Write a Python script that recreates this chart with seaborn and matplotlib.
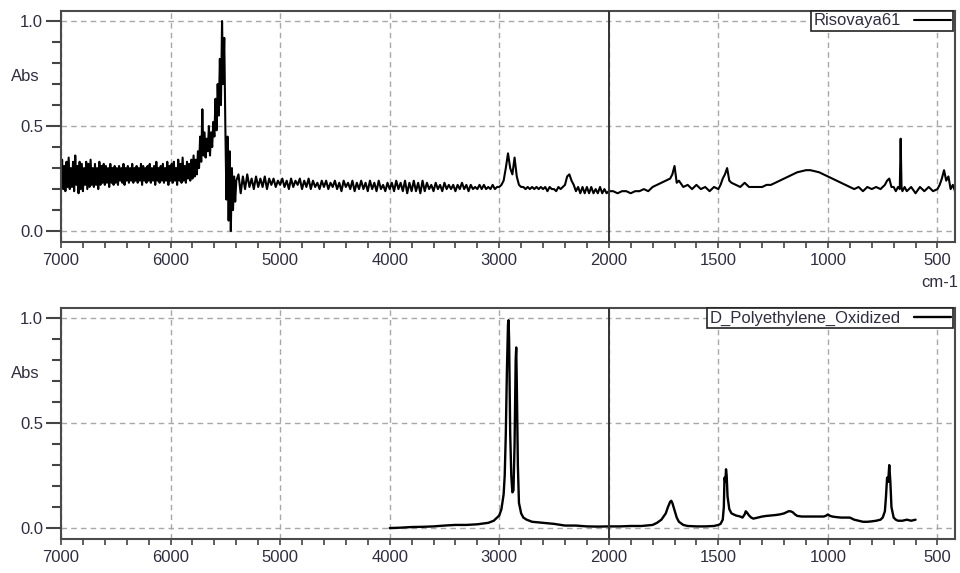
"""
Dua spektrum FTIR (Risovaya61 vs referensi polietilena teroksidasi)
dengan sumbu bilangan gelombang terpotong di 2000 cm-1.
"""
import matplotlib
matplotlib.use("Agg")
import matplotlib.pyplot as plt
import numpy as np
import seaborn as sns

# --- data spektrum atas: Risovaya61 ---
# 7000 -> 5400 cm-1, langkah 10 (daerah bising + puncak besar)
top_wn_a = np.arange(7000, 5399, -10)
top_abs_a = [
    0.22, 0.34, 0.20, 0.31, 0.19, 0.33, 0.21, 0.35, 0.20, 0.30,
    0.21, 0.33, 0.19, 0.36, 0.22, 0.31, 0.18, 0.33, 0.20, 0.32,
    0.19, 0.30, 0.22, 0.33, 0.20, 0.32, 0.21, 0.34, 0.22, 0.30,
    0.21, 0.32, 0.22, 0.30, 0.20, 0.33, 0.22, 0.31, 0.23, 0.32,
    0.22, 0.31, 0.23, 0.30, 0.21, 0.32, 0.23, 0.30, 0.22, 0.31,
    0.23, 0.30, 0.22, 0.31, 0.24, 0.30, 0.23, 0.32, 0.22, 0.30,
    0.24, 0.31, 0.23, 0.30, 0.24, 0.32, 0.23, 0.30, 0.24, 0.31,
    0.23, 0.30, 0.24, 0.32, 0.22, 0.31, 0.24, 0.30, 0.23, 0.31,
    0.24, 0.32, 0.23, 0.30, 0.24, 0.31, 0.22, 0.33, 0.24, 0.30,
    0.23, 0.31, 0.24, 0.32, 0.23, 0.30, 0.24, 0.33, 0.22, 0.31,
    0.24, 0.32, 0.23, 0.33, 0.24, 0.30, 0.22, 0.34, 0.24, 0.32,
    0.23, 0.35, 0.24, 0.31, 0.23, 0.33, 0.25, 0.32, 0.24, 0.34,
    0.25, 0.36, 0.26, 0.34, 0.27, 0.38, 0.30, 0.45, 0.33, 0.58,
    0.36, 0.47, 0.35, 0.44, 0.38, 0.50, 0.36, 0.47, 0.40, 0.52,
    0.45, 0.63, 0.48, 0.70, 0.55, 0.82, 0.60, 1.00, 0.70, 0.92,
    0.50, 0.15, 0.45, 0.05, 0.38, 0.00, 0.30, 0.10, 0.26, 0.14,
    0.24,
]
# 5380 -> 3020 cm-1, langkah 20
top_wn_b = np.arange(5380, 3019, -20)
top_abs_b = [
    0.27, 0.18, 0.26, 0.20, 0.27, 0.21, 0.25, 0.20, 0.26, 0.21,
    0.25, 0.21, 0.26, 0.20, 0.25, 0.22, 0.25, 0.21, 0.24, 0.22,
    0.25, 0.21, 0.24, 0.20, 0.25, 0.21, 0.24, 0.22, 0.25, 0.20,
    0.24, 0.21, 0.25, 0.20, 0.24, 0.21, 0.23, 0.20, 0.24, 0.21,
    0.24, 0.20, 0.23, 0.21, 0.24, 0.20, 0.23, 0.19, 0.24, 0.21,
    0.23, 0.20, 0.24, 0.19, 0.23, 0.20, 0.24, 0.20, 0.23, 0.19,
    0.24, 0.20, 0.23, 0.19, 0.24, 0.20, 0.22, 0.19, 0.23, 0.20,
    0.23, 0.19, 0.24, 0.20, 0.23, 0.19, 0.24, 0.18, 0.23, 0.19,
    0.24, 0.19, 0.23, 0.18, 0.24, 0.19, 0.23, 0.20, 0.22, 0.19,
    0.23, 0.20, 0.22, 0.19, 0.23, 0.20, 0.22, 0.20, 0.22, 0.19,
    0.22, 0.20, 0.23, 0.20, 0.22, 0.19, 0.22, 0.20, 0.21, 0.20,
    0.22, 0.20, 0.22, 0.20, 0.21, 0.20, 0.22, 0.20, 0.21,
]
# 3000 -> 2000 cm-1, langkah 20
top_wn_c = np.arange(3000, 1999, -20)
top_abs_c = [
    0.21, 0.22, 0.24, 0.30, 0.37, 0.30, 0.27, 0.35, 0.26, 0.22,
    0.21, 0.21, 0.20, 0.21, 0.20, 0.21, 0.20, 0.21, 0.20, 0.21,
    0.20, 0.21, 0.19, 0.21, 0.20, 0.20, 0.19, 0.21, 0.20, 0.21,
    0.22, 0.26, 0.27, 0.24, 0.22, 0.19, 0.21, 0.18, 0.21, 0.18,
    0.21, 0.18, 0.21, 0.18, 0.20, 0.18, 0.21, 0.18, 0.20, 0.18,
    0.19,
]
# 2000 -> 420 cm-1
top_wn_d = [
    1980, 1960, 1940, 1920, 1900, 1880, 1860, 1840, 1820, 1800,
    1780, 1760, 1740, 1720, 1710, 1700, 1690, 1680, 1660, 1640,
    1620, 1600, 1580, 1560, 1540, 1520, 1500, 1490, 1480, 1470,
    1460, 1450, 1440, 1420, 1400, 1380, 1370, 1360, 1340, 1320,
    1300, 1280, 1260, 1240, 1220, 1200, 1180, 1160, 1140, 1120,
    1100, 1080, 1060, 1040, 1020, 1000, 980, 960, 940, 920,
    900, 880, 860, 840, 820, 800, 780, 760, 740, 730,
    720, 710, 700, 690, 680, 672, 668, 664, 660, 650,
    640, 620, 600, 580, 560, 540, 520, 500, 490, 480,
    470, 460, 450, 440, 430, 420,
]
top_abs_d = [
    0.19, 0.18, 0.19, 0.19, 0.18, 0.19, 0.19, 0.20, 0.19, 0.21,
    0.22, 0.23, 0.24, 0.25, 0.27, 0.31, 0.23, 0.24, 0.21, 0.22,
    0.20, 0.22, 0.20, 0.21, 0.19, 0.21, 0.20, 0.22, 0.25, 0.27,
    0.30, 0.24, 0.23, 0.22, 0.21, 0.23, 0.22, 0.21, 0.21, 0.21,
    0.21, 0.22, 0.22, 0.23, 0.24, 0.25, 0.26, 0.27, 0.28, 0.285,
    0.29, 0.29, 0.285, 0.28, 0.27, 0.26, 0.25, 0.24, 0.23, 0.22,
    0.21, 0.20, 0.21, 0.19, 0.21, 0.20, 0.21, 0.20, 0.22, 0.24,
    0.25, 0.21, 0.21, 0.19, 0.21, 0.20, 0.44, 0.21, 0.19, 0.21,
    0.19, 0.21, 0.18, 0.21, 0.19, 0.21, 0.19, 0.20, 0.22, 0.25,
    0.29, 0.24, 0.26, 0.20, 0.22, 0.19,
]

# --- data spektrum bawah: D_Polyethylene_Oxidized ---
bot_wn = [
    4000, 3900, 3800, 3700, 3600, 3500, 3400, 3300, 3200, 3100,
    3050, 3000, 2980, 2960, 2950, 2940, 2930, 2920, 2915, 2910,
    2900, 2890, 2880, 2870, 2860, 2850, 2845, 2840, 2830, 2820,
    2800, 2780, 2750, 2700, 2600, 2500, 2400, 2300, 2200, 2100,
    2000, 1950, 1900, 1850, 1800, 1780, 1760, 1740, 1730, 1720,
    1715, 1710, 1700, 1690, 1680, 1660, 1640, 1600, 1560, 1520,
    1500, 1490, 1480, 1475, 1472, 1468, 1465, 1462, 1458, 1450,
    1440, 1430, 1420, 1400, 1390, 1380, 1375, 1370, 1360, 1350,
    1340, 1320, 1300, 1280, 1260, 1240, 1220, 1200, 1180, 1170,
    1160, 1150, 1140, 1120, 1100, 1080, 1060, 1040, 1020, 1010,
    1000, 990, 980, 960, 940, 920, 900, 880, 860, 840,
    820, 800, 780, 760, 750, 740, 735, 730, 725, 720,
    715, 710, 700, 690, 680, 660, 640, 620, 600,
]
bot_abs = [
    0.000, 0.002, 0.005, 0.006, 0.008, 0.012, 0.015, 0.015, 0.018, 0.025,
    0.035, 0.060, 0.090, 0.160, 0.250, 0.450, 0.750, 0.970, 0.990, 0.900,
    0.450, 0.250, 0.170, 0.180, 0.400, 0.800, 0.860, 0.700, 0.300, 0.120,
    0.070, 0.050, 0.040, 0.030, 0.025, 0.020, 0.012, 0.012, 0.008, 0.007,
    0.008, 0.008, 0.010, 0.010, 0.015, 0.025, 0.040, 0.070, 0.100, 0.125,
    0.130, 0.120, 0.085, 0.050, 0.030, 0.015, 0.010, 0.008, 0.008, 0.010,
    0.015, 0.020, 0.040, 0.100, 0.240, 0.220, 0.280, 0.250, 0.150, 0.090,
    0.070, 0.065, 0.060, 0.055, 0.050, 0.065, 0.080, 0.075, 0.060, 0.050,
    0.045, 0.050, 0.055, 0.058, 0.060, 0.062, 0.065, 0.070, 0.080, 0.080,
    0.075, 0.065, 0.058, 0.055, 0.055, 0.055, 0.055, 0.055, 0.055, 0.058,
    0.065, 0.058, 0.055, 0.052, 0.050, 0.050, 0.050, 0.040, 0.035, 0.030,
    0.030, 0.032, 0.035, 0.040, 0.050, 0.080, 0.150, 0.240, 0.220, 0.300,
    0.220, 0.100, 0.050, 0.040, 0.035, 0.035, 0.040, 0.035, 0.040,
]

major_ticks = [7000, 6000, 5000, 4000, 3000, 2000, 1500, 1000, 500]
BREAK = 2000
TXT = "#2e2e40"

sns.set_theme(style="white")
plt.rcParams["font.family"] = ["Liberation Sans", "DejaVu Sans"]


def _fwd(x):
    x = np.asarray(x, dtype=float)
    return np.where(x >= BREAK, x, 2 * x - BREAK)


def _inv(t):
    t = np.asarray(t, dtype=float)
    return np.where(t >= BREAK, t, (t + BREAK) / 2)


def style_axis(ax):
    ax.set_xscale("function", functions=(_fwd, _inv))
    ax.set_xlim(7000, 420)
    ax.set_ylim(-0.052, 1.048)
    minor = [w for w in range(6800, 2000, -200) if w % 1000] + \
            [w for w in range(1900, 420, -100) if w % 500]
    ax.set_xticks(major_ticks)
    ax.set_xticks(minor, minor=True)
    ax.set_yticks([0.0, 0.5, 1.0])
    ax.set_yticks([0.1, 0.2, 0.3, 0.4, 0.6, 0.7, 0.8, 0.9], minor=True)
    ax.set_yticklabels(["0.0", "0.5", "1.0"])
    ax.tick_params(axis="x", which="both", direction="out", length=4,
                   width=1.2, color="#444444", pad=4, labelsize=12,
                   labelcolor=TXT, bottom=True)
    ax.tick_params(axis="y", which="major", direction="out", length=11,
                   width=1.5, color="#444444", pad=2, labelsize=12,
                   labelcolor=TXT, left=True)
    ax.tick_params(axis="y", which="minor", direction="out", length=6.5,
                   width=1.5, color="#444444", left=True)
    ax.grid(True, which="major", color="#a8a8a8", linestyle=(0, (4, 3)),
            linewidth=1.0)
    ax.axvline(BREAK, color="#333333", linewidth=1.4, zorder=3)
    for s in ax.spines.values():
        s.set_color("#4a4a4a")
        s.set_linewidth(1.5)
    ax.set_xlabel("")
    ax.set_ylabel("")
    leg = ax.legend(loc="upper right", bbox_to_anchor=(0.998, 1.0),
                    borderaxespad=0, frameon=True, fancybox=False,
                    markerfirst=False, handlelength=2.2, fontsize=12,
                    borderpad=0.15, handletextpad=0.8, labelcolor=TXT)
    leg.get_frame().set_edgecolor("#222222")
    leg.get_frame().set_linewidth(1.2)
    leg.get_frame().set_alpha(1)


fig = plt.figure(figsize=(9.6, 5.73), dpi=100)
ax_top = fig.add_axes([61 / 960, 1 - 242 / 573, 894 / 960, 231 / 573])
ax_bot = fig.add_axes([61 / 960, 1 - 539 / 573, 894 / 960, 231 / 573])

top_wn = np.concatenate([top_wn_a, top_wn_b, top_wn_c, top_wn_d])
top_abs = np.concatenate([top_abs_a, top_abs_b, top_abs_c, top_abs_d])

sns.lineplot(x=top_wn, y=top_abs, ax=ax_top, color="black", linewidth=1.5,
             sort=False, estimator=None, label="Risovaya61")
sns.lineplot(x=bot_wn, y=bot_abs, ax=ax_bot, color="black", linewidth=1.7,
             sort=False, estimator=None, label="D_Polyethylene_Oxidized")

style_axis(ax_top)
style_axis(ax_bot)

fig.text(25 / 960, 1 - 76 / 573, "Abs", ha="center", va="center",
         fontsize=12, color=TXT)
fig.text(25 / 960, 1 - 373 / 573, "Abs", ha="center", va="center",
         fontsize=12, color=TXT)
fig.text(958 / 960, 1 - 283 / 573, "cm-1", ha="right", va="center",
         fontsize=12, color=TXT)

fig.savefig("out.png", dpi=100)
